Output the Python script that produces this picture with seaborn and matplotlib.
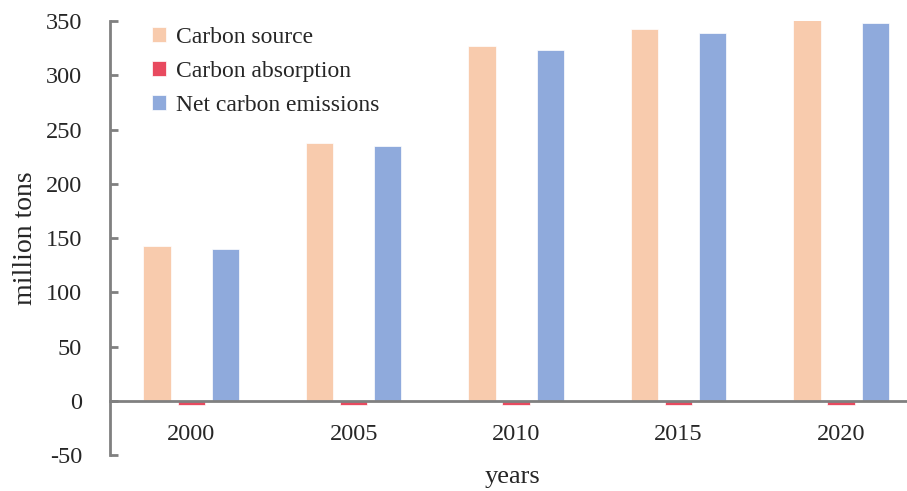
import matplotlib
matplotlib.use("Agg")
import matplotlib.pyplot as plt
import seaborn as sns
import pandas as pd

years = ["2000", "2005", "2010", "2015", "2020"]
carbon_source = [143, 238, 327, 342.5, 351]
carbon_absorption = [-3.5, -3.5, -3.5, -3.5, -3.5]
net_emissions = [140, 234.5, 323, 339.5, 348]
series_names = ["Carbon source", "Carbon absorption", "Net carbon emissions"]
colors = ["#F8CBAD", "#E84A5F", "#8FAADC"]
y_ticks = [-50, 0, 50, 100, 150, 200, 250, 300, 350]

df = pd.DataFrame({
    "years": years * 3,
    "value": carbon_source + carbon_absorption + net_emissions,
    "series": [series_names[0]] * 5 + [series_names[1]] * 5 + [series_names[2]] * 5,
})

sns.set_style("white")
plt.rcParams["font.family"] = ["Liberation Serif", "DejaVu Serif"]
plt.rcParams["axes.unicode_minus"] = False

fig = plt.figure(figsize=(9.07, 4.91), dpi=100)
ax = fig.add_axes([0.1213, 0.0733, 0.8787, 0.8837])

sns.barplot(data=df, x="years", y="value", hue="series", hue_order=series_names,
            palette=colors, saturation=1, width=0.63, gap=0.2, ax=ax,
            errorbar=None, edgecolor="#FFFFFF", linewidth=0.5)

ax.set_ylim(-50, 350)
ax.set_xlim(-0.5, 4.406)
ax.set_yticks(y_ticks)
ax.set_yticklabels([str(v) for v in y_ticks])

grey = "#808080"
for s in ["top", "right"]:
    ax.spines[s].set_visible(False)
for s in ["left", "bottom"]:
    ax.spines[s].set_color(grey)
    ax.spines[s].set_linewidth(2)
ax.spines["bottom"].set_position(("data", 0))

ax.tick_params(axis="y", direction="in", length=6, width=2, color=grey,
               labelsize=17.5, pad=20, left=True)
ax.tick_params(axis="x", length=0, labelsize=17.5, pad=17)

ax.set_xlabel("years", fontsize=19)
ax.xaxis.set_label_coords(0.505, -0.025)
ax.set_ylabel("million tons", fontsize=20)
ax.yaxis.set_label_coords(-0.09, 0.5)

ax.legend(loc="upper left", bbox_to_anchor=(0.026, 1.035), frameon=False,
          fontsize=17, handlelength=0.6, handleheight=0.6,
          handletextpad=0.4, labelspacing=0.55)

fig.savefig("out.png", dpi=100)
